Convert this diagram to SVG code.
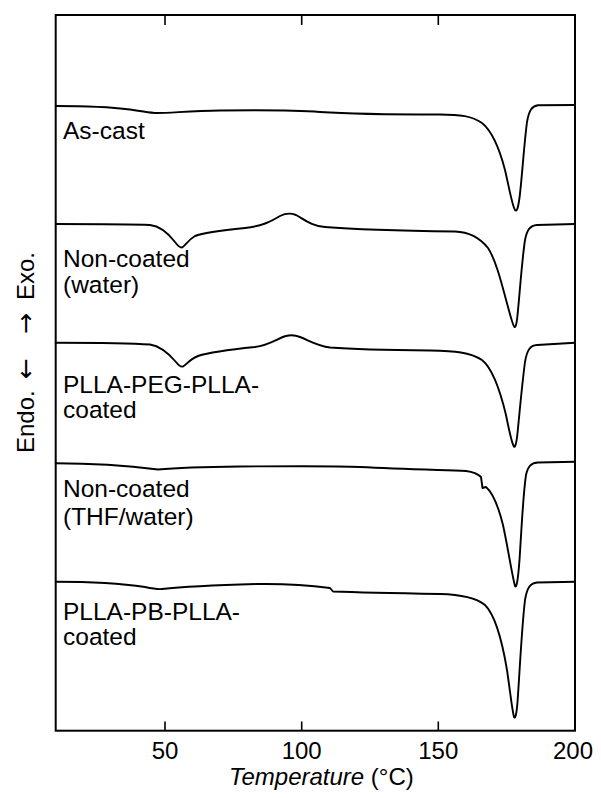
<svg xmlns="http://www.w3.org/2000/svg" width="601" height="798" viewBox="0 0 601 798">
<style>
.ax{fill:none;stroke:#000;stroke-width:2}
.tk{stroke:#000;stroke-width:1.6}
.cv{fill:none;stroke:#000;stroke-width:1.9;stroke-linejoin:round;stroke-linecap:round}
text{font-family:"Liberation Sans",Arial,sans-serif;font-size:24px;fill:#000}
.num{text-anchor:middle}
.lb{font-size:24.5px}
.ar{font-family:"DejaVu Sans",sans-serif;font-size:25px}
</style>
<rect width="601" height="798" fill="#fff"/>
<g id="axes">
<rect class="ax" x="55.7" y="15" width="519.3" height="715.7"/>
<path class="tk" d="M165,730.7V721.5M301.7,730.7V721.5M438.3,730.7V721.5M165,15V25M301.7,15V25M438.3,15V25"/>
<text class="num" x="165" y="759">50</text>
<text class="num" x="301.7" y="759">100</text>
<text class="num" x="438.3" y="759">150</text>
<text class="num" x="573" y="759">200</text>
<text x="229" y="785" font-size="24.5"><tspan font-style="italic">Temperature</tspan> (°C)</text>
<text transform="translate(33.5,453) rotate(-90)" font-size="24.5"><tspan x="0">Endo.</tspan><tspan class="ar" x="74">←</tspan><tspan class="ar" x="119">→</tspan><tspan x="153">Exo.</tspan></text>
</g>
<g id="connectors">
<path id="c1" class="cv" d="M55.7,106 C80,106 110,107 130,109.5 C145,111.5 150,113 157,113 C170,113 190,111 220,110.5 C260,110 295,110 320,112 C350,114 400,114.5 440,114.5 C460,114.5 472,116 482,123 C492,131 499,147 505,170 C509,187 512,205 515,210 C517,212 518,208 519.5,198 C522,178 524,145 527,122 C529,110 532,106 538,105.3 L575,105"/>
<path id="c2" class="cv" d="M55.7,224 C90,224 130,224 150,225 C160,226 168,233 175,242 C178,246 180,248 182,247.5 C185,246 188,240 195,236 C205,232 225,230 245,228 C262,226 270,222 280,216 C285,213.5 291,213 296,215 C305,220 312,226 325,227 C350,229 420,231 455,231.5 C470,232 480,238 488,248 C496,260 502,285 508,307 C511,318 513,326 514.5,327 C516,327.5 517,322 518,310 C520,290 522,260 525,240 C527,230 530,225.5 537,225 L575,224"/>
<path id="c3" class="cv" d="M55.7,342.7 C90,342.7 130,343 150,344.5 C160,346 170,355 176,362 C179,366 181,367 183,366.5 C186,365 190,359 198,356 C210,352 235,349 255,347 C270,345 278,338 286,336 C290,335 295,335 300,337 C310,341 318,346 330,347.5 C350,349 380,350 430,350.5 C455,351 470,352 482,360 C492,368 500,390 506,415 C509,430 512,444 514,446.7 C515.5,448 517,440 518,428 C520,408 522,385 525,362 C527,350 530,345.5 537,345 L575,342.7"/>
<path id="c4" class="cv" d="M55.7,463.3 C90,463.3 130,466 158,469.5 C175,468 200,467 240,466.5 C300,466 340,466 360,467 C400,469 440,470 466,471 C474,472 478,474 481,477 L482.5,488 L486,487 C492,492 498,505 503,525 C508,548 512,575 515,586 C516.5,589 518,580 519.5,560 C521.5,530 523,495 526,475 C528,466 531,463 538,462.5 L575,461.7"/>
<path id="c5" class="cv" d="M55.7,581.7 C90,581.7 125,584 145,587 C152,588.5 157,589.5 162,589 C180,587 220,585 257,584 C290,583.5 315,586 330,588 L333,591.5 C360,592.5 400,593.3 440,594 C460,594.5 475,597 485,605 C495,615 502,640 507,670 C510,690 512,710 514,717 C515.5,720 517,712 518,695 C520,665 522,625 525,600 C527,588 530,583 537,582.5 L575,581.7"/>
</g>
<g id="labels">
<text class="lb" x="63" y="139.3">As-cast</text>
<text class="lb" x="63" y="266.7">Non-coated</text>
<text class="lb" x="63" y="293">(water)</text>
<text class="lb" x="63" y="392.7">PLLA-PEG-PLLA-</text>
<text class="lb" x="63" y="418.3">coated</text>
<text class="lb" x="63" y="496.7">Non-coated</text>
<text class="lb" x="63" y="525">(THF/water)</text>
<text class="lb" x="63" y="620">PLLA-PB-PLLA-</text>
<text class="lb" x="63" y="645">coated</text>
</g>
</svg>
